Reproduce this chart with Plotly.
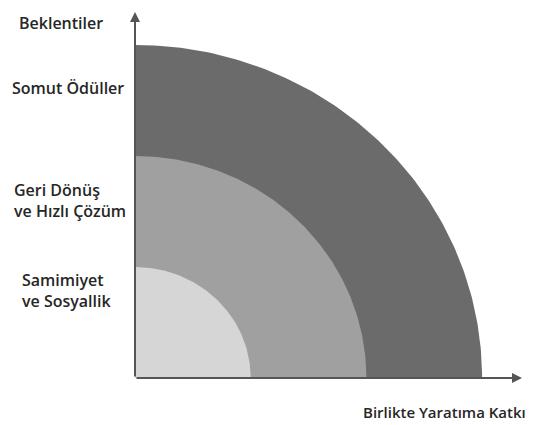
import numpy as np
import plotly.graph_objects as go

# rings, outermost first so inner ones draw on top
rings = ['Somut Ödüller', 'Geri Dönüş ve Hızlı Çözüm', 'Samimiyet ve Sosyallik']
radius = [3, 2, 1]
colors = ['#6b6b6b', '#a0a0a0', '#d6d6d6']

label_text = ['Somut Ödüller', 'Geri Dönüş<br>ve Hızlı Çözüm', 'Samimiyet<br>ve Sosyallik']
label_y = [2.61, 1.60, 0.79]
label_px = [10, 12, 20]   # left edge of each label, page pixels

y_title = 'Beklentiler'
x_title = 'Birlikte Yaratıma Katkı'

fig = go.Figure()
t = np.linspace(0, np.pi / 2, 120)
for name, r, c in zip(rings, radius, colors):
    xs = np.concatenate([[0], r * np.cos(t), [0]])
    ys = np.concatenate([[0], r * np.sin(t), [0]])
    fig.add_trace(go.Scatter(x=xs, y=ys, fill='toself', fillcolor=c, mode='lines',
                             line=dict(width=0), name=name, hoverinfo='name'))

font = dict(family='Open Sans', size=16, color='#262626', weight=600)
xmax, ymax = 3.345, 3.297
plot_w = 387

def dom(px):
    # page pixel -> x domain fraction (plot starts at page x 135)
    return (px - 135) / plot_w

# axes with arrowheads
fig.add_annotation(x=xmax, y=0, ax=0, ay=0, xref='x', yref='y', axref='x', ayref='y',
                   showarrow=True, arrowhead=2, arrowsize=1, arrowwidth=2, arrowcolor='#555', text='')
fig.add_annotation(x=0, y=ymax, ax=0, ay=0, xref='x', yref='y', axref='x', ayref='y',
                   showarrow=True, arrowhead=2, arrowsize=1, arrowwidth=2, arrowcolor='#555', text='')

for txt, yy, px in zip(label_text, label_y, label_px):
    fig.add_annotation(x=dom(px), y=yy, xref='x domain', yref='y', xanchor='left', yanchor='middle',
                       text=txt, showarrow=False, align='left', font=font)

fig.add_annotation(x=dom(17), y=1.005, xref='x domain', yref='paper', xanchor='left',
                   yanchor='top', text=y_title, showarrow=False, font=font)
fig.add_annotation(x=dom(361), y=-34 / 366, xref='x domain', yref='y domain', xanchor='left',
                   yanchor='middle', text=x_title, showarrow=False, font=dict(font, size=15))

# page body has an 8px margin, so the figure is shifted by 8px
fig.update_layout(width=527, height=417, margin=dict(l=127, r=13, t=4, b=47),
                  plot_bgcolor='white', paper_bgcolor='white', showlegend=False)
fig.update_xaxes(range=[0, xmax], visible=False)
fig.update_yaxes(range=[0, ymax], visible=False)
fig.write_html('out.html')
